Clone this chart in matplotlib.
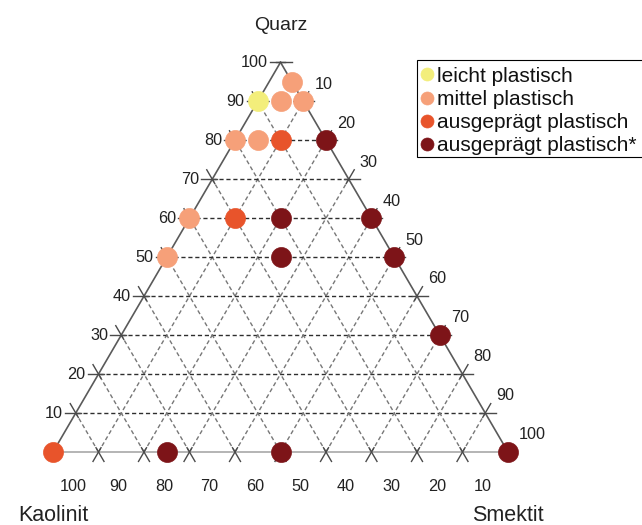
import matplotlib
matplotlib.use("Agg")
import matplotlib.pyplot as plt
from matplotlib.patches import Rectangle
import numpy as np

# Messwerte in Prozent (Quarz / Kaolinit / Smektit) und Plastizitaetsklasse
quarz    = [95, 90, 90, 90, 80, 80, 80, 80, 60, 60, 60, 60, 50, 50, 50, 30, 0, 0, 0, 0]
kaolinit = [0, 10, 5, 0, 20, 15, 10, 0, 40, 30, 20, 0, 50, 25, 0, 0, 100, 75, 50, 0]
smektit  = [5, 0, 5, 10, 0, 5, 10, 20, 0, 10, 20, 40, 0, 25, 50, 70, 0, 25, 50, 100]
klasse   = [1, 0, 1, 1, 1, 1, 2, 3, 1, 2, 3, 3, 1, 3, 3, 3, 2, 3, 3, 3]

klassen_namen = ["leicht plastisch", "mittel plastisch", "ausgeprägt plastisch", "ausgeprägt plastisch*"]
klassen_farben = ["#f3ee7b", "#f6a079", "#e8542b", "#7d1418"]
stufen = [10, 20, 30, 40, 50, 60, 70, 80, 90, 100]

plt.rcParams['font.family'] = ['Liberation Sans', 'DejaVu Sans']

W, H = 642, 525
PX = 455.0  # Pixel pro Einheit (x)
PY = 450.0  # Pixel pro Einheit (y)
R3 = np.sqrt(3) / 2


def ternaer(q, k, s):
    q = np.asarray(q) / 100.0
    s = np.asarray(s) / 100.0
    return s + q / 2, q * R3


fig = plt.figure(figsize=(W / 100, H / 100), dpi=100)
ax = fig.add_axes([0, 0, 1, 1])
ax.set_xlim(-53 / PX, (W - 53) / PX)
ax.set_ylim(-(H - 452) / PY, 452 / PY)
ax.axis('off')

grau_dunkel = "#2e2e2e"
grau_hell = "#777777"
strich = (0, (3, 2))

# Gitterlinien
for t in range(10, 100, 10):
    # Quarz konstant (horizontal)
    x, y = ternaer([t, t], [100 - t, 0], [0, 100 - t])
    ax.plot(x, y, color=grau_dunkel, lw=1.0, ls=strich, zorder=1)
    # Kaolinit konstant
    x, y = ternaer([0, 100 - t], [t, t], [100 - t, 0])
    ax.plot(x, y, color=grau_hell, lw=1.0, ls=strich, zorder=1)
    # Smektit konstant
    x, y = ternaer([0, 100 - t], [100 - t, 0], [t, t])
    ax.plot(x, y, color=grau_hell, lw=1.0, ls=strich, zorder=1)

# Dreieckskanten
x, y = ternaer([0, 100, 0], [100, 0, 0], [0, 0, 100])
ax.plot(x[:2], y[:2], color="#5a5a5a", lw=1.2, zorder=2)
ax.plot(x[1:], y[1:], color="#5a5a5a", lw=1.2, zorder=2)
ax.plot([x[0], x[2]], [y[0], y[2]], color="#a8a8a8", lw=1.2, zorder=2)

aus = 11 / PX
ein = 5 / PX
d_links = np.array([-1.0, 0.0])           # horizontal nach links
d_rechts = np.array([1.0, 0.0])
d_hoch_links = np.array([-0.5, R3])       # Kaolinit-Linie ueber linke Kante
d_runter_rechts = np.array([0.5, -R3])    # Kaolinit-Linie unter Basis
d_runter_links = np.array([-0.5, -R3])    # Smektit-Linie unter Basis
d_hoch_rechts = np.array([0.5, R3])       # Smektit-Linie ueber rechte Kante


def tick(p, d):
    a = p - d * ein
    b = p + d * aus
    ax.plot([a[0], b[0]], [a[1], b[1]], color="#4a4a4a", lw=1.0, zorder=2)


# linke Kante: Quarz
for v in stufen:
    x, y = ternaer(v, 100 - v, 0)
    p = np.array([x, y])
    tick(p, d_links)
    if v < 100:
        tick(p, d_hoch_links)
    ax.text(x - 13 / PX, y, str(v), ha='right', va='center', fontsize=11.7, color="#222222")

# Basis: Kaolinit
for v in stufen[::-1]:
    x, y = ternaer(0, v, 100 - v)
    p = np.array([x, y])
    if v < 100:
        tick(p, d_runter_rechts)
        tick(p, d_runter_links)
    q = p + d_runter_rechts * 40 / PX
    ax.text(q[0], q[1], str(v), ha='center', va='center', fontsize=11.7, color="#222222")

# rechte Kante: Smektit
for v in [0] + stufen:
    x, y = ternaer(100 - v, 0, v)
    p = np.array([x, y])
    if v < 100:
        tick(p, d_rechts)
    if 0 < v < 100:
        tick(p, d_hoch_rechts)
    if v > 0:
        q = p + d_hoch_rechts * 20 / PX
        ax.text(q[0] + 1 / PX, q[1], str(v), ha='left', va='center', fontsize=11.7, color="#222222")

# Messpunkte
qa, ka, sa, kl = map(np.array, (quarz, kaolinit, smektit, klasse))
for i, (name, farbe) in enumerate(zip(klassen_namen, klassen_farben)):
    m = kl == i
    x, y = ternaer(qa[m], ka[m], sa[m])
    ax.plot(x, y, 'o', ms=14.4, color=farbe, mec=farbe, mew=0.5, ls='none', label=name, zorder=5, clip_on=False)

fig.text(281 / W, 1 - 30 / H, "Quarz", ha='center', va='baseline', fontsize=14, color="#222222")
fig.text(18 / W, 1 - 521 / H, "Kaolinit", ha='left', va='baseline', fontsize=15.5, color="#222222")
fig.text(472 / W, 1 - 521 / H, "Smektit", ha='left', va='baseline', fontsize=15.5, color="#222222")

# Legende, Rahmen reicht rechts ueber den Bildrand hinaus
ax.add_patch(Rectangle((417 / W, 1 - 157 / H), 250 / W, 97 / H, transform=fig.transFigure,
                       facecolor='white', edgecolor='black', lw=0.8, zorder=6, clip_on=False))
leg = ax.legend(loc='upper left', bbox_to_anchor=(413 / W, 1 - 60 / H), bbox_transform=fig.transFigure,
                fontsize=15.0, frameon=False, borderpad=0.32, labelspacing=0.2, handlelength=0.7,
                handletextpad=0.15, borderaxespad=0, numpoints=1, markerscale=0.65)
leg.set_zorder(7)
for t in leg.get_texts():
    t.set_color("#111111")

plt.savefig("out.png", dpi=100)
